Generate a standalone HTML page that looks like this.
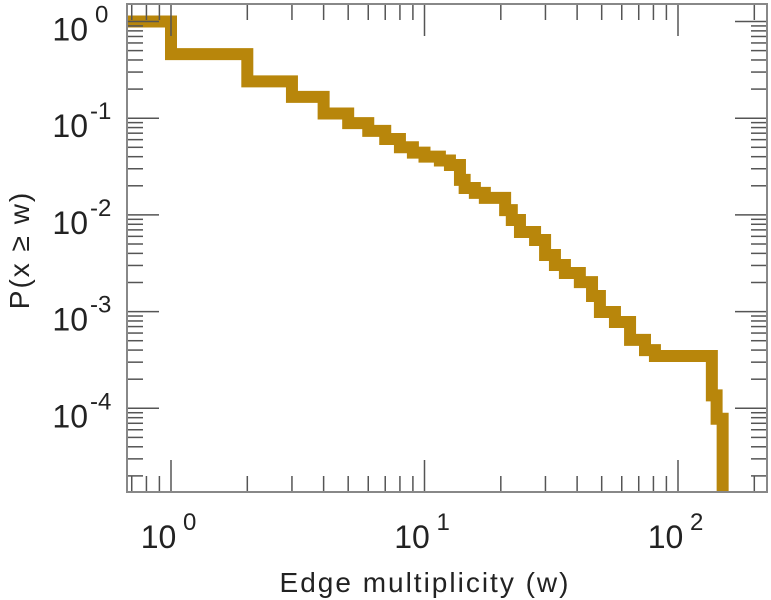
<!DOCTYPE html>
<html><head><meta charset="utf-8"><style>
html,body{margin:0;padding:0;background:#fff;}
svg{display:block;font-family:"Liberation Sans",sans-serif;}
</style></head><body>
<svg id="chart" width="771" height="600" viewBox="0 0 771 600"></svg>
<script>
const wValues = [0.6, 1, 2, 3, 4, 5, 6, 7, 8, 9, 10, 11.5, 12.6, 13.8, 14.4, 15.8, 17.3, 20.8, 22.1, 23.8, 27.3, 29.9, 32.7, 35.8, 41, 45.8, 49.2, 56.4, 64.7, 74.1, 81.1, 136, 142, 150];
const pValues = [1, 0.46, 0.24, 0.166, 0.112, 0.089, 0.074, 0.061, 0.05, 0.044, 0.04, 0.0365, 0.0328, 0.023, 0.019, 0.0169, 0.015, 0.0112, 0.00886, 0.00665, 0.0055, 0.00385, 0.00303, 0.00251, 0.00202, 0.00145, 0.00099, 0.00078, 0.00051, 0.0004, 0.000347, 0.000136, 0.000078, 0.000005];
const xTickExps = [0, 1, 2];
const yTickExps = [0, -1, -2, -3, -4];

const NS = "http://www.w3.org/2000/svg";
const svg = document.getElementById('chart');
const L = 127, R = 767, T = 4, B = 492;
const xDec0 = 171, xDecPx = 253.5, yDec0 = 21.5, yDecPx = 96.7;
function xs(w){ return xDec0 + Math.log10(w) * xDecPx; }
function ys(p){ return yDec0 - Math.log10(p) * yDecPx; }
function mk(tag, attrs){ const e = document.createElementNS(NS, tag); for (const k in attrs) e.setAttribute(k, attrs[k]); svg.appendChild(e); return e; }

const defs = mk('defs', {});
const cp = document.createElementNS(NS, 'clipPath'); cp.setAttribute('id', 'clip');
const cr = document.createElementNS(NS, 'rect'); cr.setAttribute('x', L); cr.setAttribute('y', T); cr.setAttribute('width', R - L); cr.setAttribute('height', B - T);
cp.appendChild(cr); defs.appendChild(cp);

let d = '';
for (let i = 0; i < wValues.length; i++) {
  const x = xs(wValues[i]), y = ys(pValues[i]);
  if (i === 0) d += 'M' + x + ',' + y;
  else d += 'V' + y;
  const xn = i + 1 < wValues.length ? xs(wValues[i + 1]) : x;
  d += 'H' + xn;
}
const line = mk('path', {d: d, fill: 'none', stroke: '#b8860b', 'stroke-width': 12, 'stroke-linejoin': 'miter', 'clip-path': 'url(#clip)'});



const tickG = mk('g', {stroke: '#555', 'stroke-width': 1.5});


function tl(x1, y1, x2, y2){ const e = document.createElementNS(NS, 'line'); e.setAttribute('x1', x1); e.setAttribute('y1', y1); e.setAttribute('x2', x2); e.setAttribute('y2', y2); tickG.appendChild(e); }
for (let e = -1; e <= 2; e++) {
  for (let m = 1; m <= 9; m++) {
    const x = xs(m * Math.pow(10, e));
    if (x < L || x > R) continue;
    const len = m === 1 ? 32 : 16;
    tl(x, B, x, B - len); tl(x, T, x, T + len);
  }
}
for (let e = -5; e <= 0; e++) {
  for (let m = 1; m <= 9; m++) {
    const y = ys(m * Math.pow(10, e));
    if (y < T || y > B) continue;
    const len = m === 1 ? 32 : 16;
    tl(L, y, L + len, y); tl(R, y, R - len, y);
  }
}
const frame = mk('rect', {x: L, y: T, width: R - L, height: B - T, fill: 'none', stroke: '#888', 'stroke-width': 2});



xTickExps.forEach(function(e){
  const x = xs(Math.pow(10, e));
  const t = mk('text', {x: x - 12.5, y: 548, 'text-anchor': 'middle', 'font-size': 32, fill: '#222'});
  
  
  t.textContent = '10';
  const s = mk('text', {x: x + 12, y: 530, 'font-size': 24, fill: '#222'});
  
  
  s.textContent = e;
});
yTickExps.forEach(function(e){
  const y = ys(Math.pow(10, e));
  const t = mk('text', {x: 88, y: y + 19, 'text-anchor': 'end', 'font-size': 32, fill: '#222'});
  
  
  t.textContent = '10';
  const s = mk('text', {x: e === 0 ? 95 : 90, y: y + 1, 'font-size': 24, fill: '#222'});
  
  
  s.textContent = e;
});
const xt = mk('text', {x: 425, y: 592, 'text-anchor': 'middle', 'font-size': 28, 'letter-spacing': 2, fill: '#222'});


xt.textContent = 'Edge multiplicity (w)';
const yt = mk('text', {x: 0, y: 0, 'text-anchor': 'middle', 'font-size': 28, 'letter-spacing': 2, fill: '#222', transform: 'translate(29,250) rotate(-90)'});


yt.textContent = 'P(x \u2265 w)';
</script>
</body></html>
